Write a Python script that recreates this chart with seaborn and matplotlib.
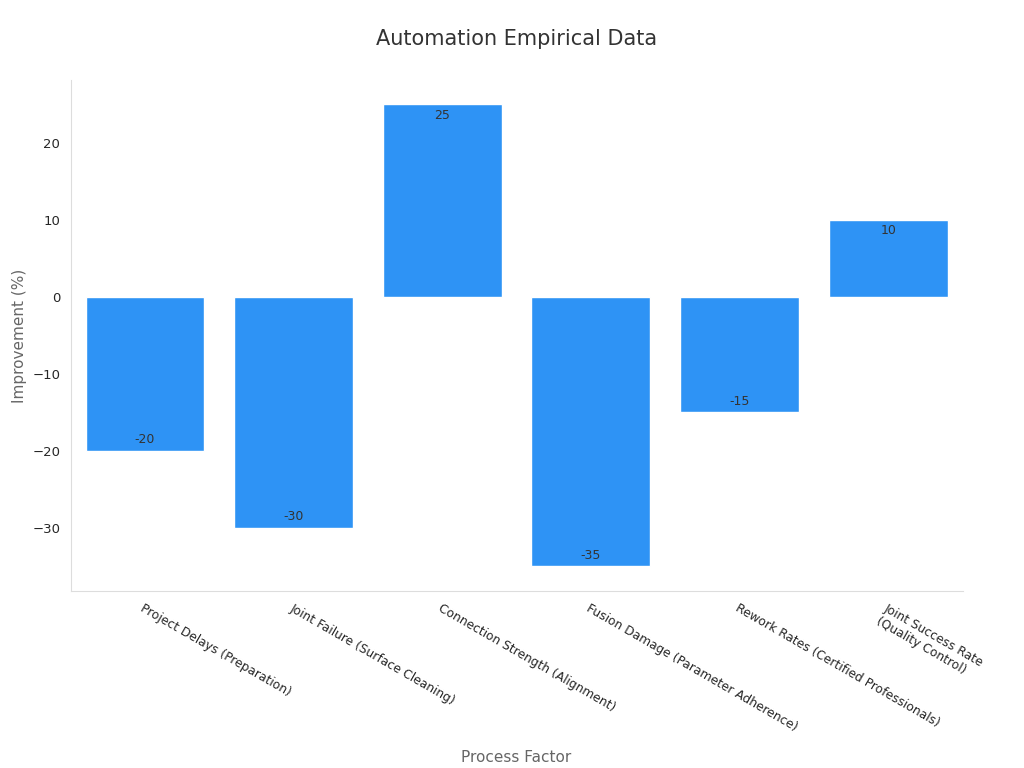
import matplotlib
matplotlib.use("Agg")
import matplotlib.pyplot as plt
import seaborn as sns
import pandas as pd

categories = ["Project Delays (Preparation)", "Joint Failure (Surface Cleaning)",
              "Connection Strength (Alignment)", "Fusion Damage (Parameter Adherence)",
              "Rework Rates (Certified Professionals)", "Joint Success Rate\n(Quality Control)"]
values = [-20, -30, 25, -35, -15, 10]

df = pd.DataFrame({"cat": categories, "val": values})
sns.set_style("white")
fig, ax = plt.subplots(figsize=(10.24, 7.68), dpi=100)
fig.subplots_adjust(left=0.069, right=0.94, top=0.896, bottom=0.23)
sns.barplot(data=df, x="cat", y="val", color="#2E93F5", saturation=1, width=0.8, ax=ax)
ax.set_ylim(-38.3, 28.2)
ax.set_xlim(-0.5, 5.5)
for i, v in enumerate(values):
    off = -1.4 if v > 0 else 1.4
    ax.text(i, v + off, str(v), ha="center", va="center", fontsize=9, color="#333333")
ax.set_title("Automation Empirical Data", fontsize=15, color="#333333", pad=25)
ax.set_xlabel("Process Factor", fontsize=11, color="#666666")
ax.xaxis.set_label_coords(0.5, -0.311)
ax.set_ylabel("Improvement (%)", fontsize=11, color="#666666")
ax.set_xticks(range(len(categories)))
ax.set_xticklabels(categories, rotation=-30, ha="left", rotation_mode="anchor", fontsize=8.8)
ax.tick_params(axis="both", length=4, color="#555555")
ax.tick_params(axis="y", labelsize=9.5)
for s in ["top", "right"]:
    ax.spines[s].set_visible(False)
for s in ["left", "bottom"]:
    ax.spines[s].set_color("#dddddd")
fig.savefig("out.png", dpi=100)
